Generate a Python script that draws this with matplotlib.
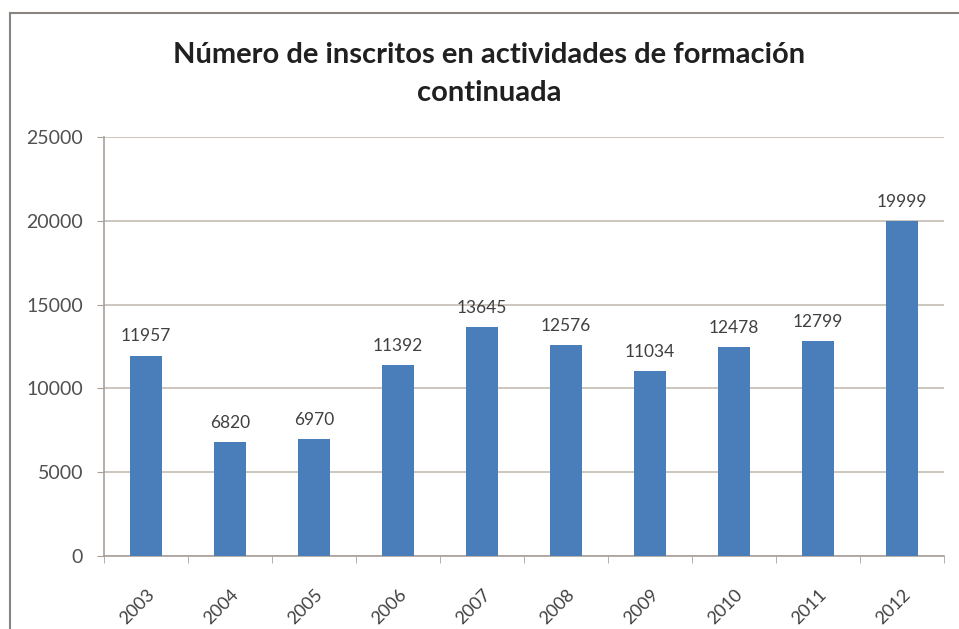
import matplotlib.pyplot as plt
from matplotlib.patches import Rectangle

years = ['2003', '2004', '2005', '2006', '2007', '2008', '2009', '2010', '2011', '2012']
inscritos = [11957, 6820, 6970, 11392, 13645, 12576, 11034, 12478, 12799, 19999]
yticks = [0, 5000, 10000, 15000, 20000, 25000]

plt.rcParams['font.family'] = ['Lato', 'DejaVu Sans']

fig = plt.figure(figsize=(9.59, 6.29), dpi=100)
fig.patch.set_facecolor('white')

# outer chart frame (Excel style)
fig.patches.append(Rectangle((10 / 959, -0.1), 1.2, 1 - 13 / 629 + 0.1,
                             transform=fig.transFigure, fill=False,
                             edgecolor='#8a8480', linewidth=1.5))

ax = fig.add_axes([104 / 959, 1 - 556 / 629, 840 / 959, 419 / 629])
x = range(len(years))
bars = ax.bar(x, inscritos, width=0.38, color='#4a7ebb', zorder=3)

ax.set_xlim(-0.5, len(years) - 0.5)
ax.set_ylim(0, 25000)
ax.set_yticks(yticks)
ax.set_yticklabels([str(v) for v in yticks])
ax.yaxis.grid(True, color='#c4bcb4', linewidth=1.2, zorder=0)

ax.set_xticks(list(x))
ax.set_xticklabels(years, rotation=45, ha='right', va='top', rotation_mode='anchor')
ax.tick_params(axis='x', length=0, labelsize=13, colors='#404040', pad=22)
ax.set_xticks([i + 0.5 for i in range(-1, len(years))], minor=True)
ax.tick_params(axis='x', which='minor', length=5, color='#a8a09a')
ax.tick_params(axis='y', length=5, color='#a8a09a', labelsize=14, labelcolor='#505050', pad=10)

for s in ['top', 'right']:
    ax.spines[s].set_visible(False)
for s in ['left', 'bottom']:
    ax.spines[s].set_color('#a8a09a')
    ax.spines[s].set_linewidth(1.2)

for i, v in enumerate(inscritos):
    ax.annotate(str(v), (i, v), xytext=(0, 8), textcoords='offset points',
                ha='center', va='bottom', fontsize=12.5, color='#404040')

fig.text(489 / 959, 1 - 74 / 629, 'Número de inscritos en actividades de formación\ncontinuada',
         ha='center', va='center', fontsize=21, fontweight='bold', color='#202020',
         linespacing=1.6)

fig.savefig('out.png', dpi=100)
